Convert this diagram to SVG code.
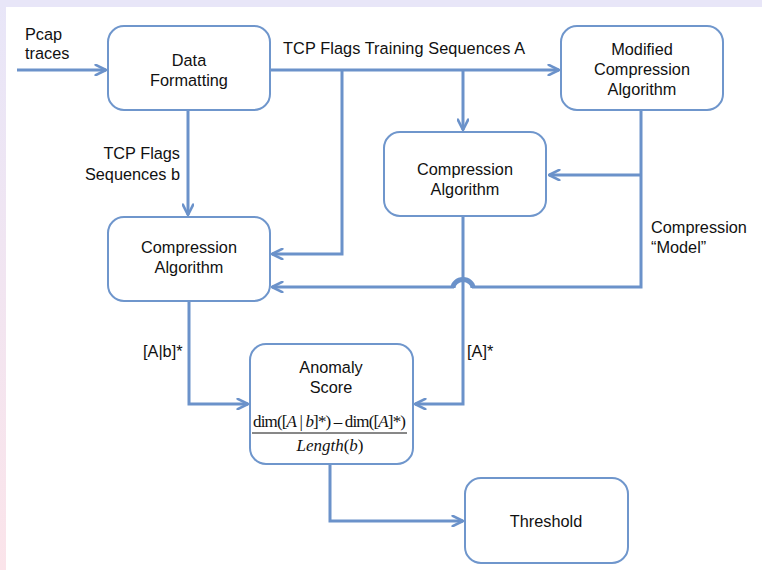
<svg xmlns="http://www.w3.org/2000/svg" width="762" height="570" viewBox="0 0 762 570">
<defs>
<linearGradient id="lg" x1="0" y1="0" x2="0" y2="1">
<stop offset="0" stop-color="#e8e6f8"/>
<stop offset="1" stop-color="#fbe4ea"/>
</linearGradient>
<marker id="ah" viewBox="0 0 10 10" refX="9" refY="5" markerWidth="4.3" markerHeight="4.3" orient="auto" markerUnits="strokeWidth">
<path d="M1,1 L9,5 L1,9" fill="none" stroke="#6b92ca" stroke-width="2" stroke-linecap="round" stroke-linejoin="round"/>
</marker>
<style>
.box{fill:#ffffff;stroke:#6f96cc;stroke-width:2}
.t{font-family:"Liberation Sans",Arial,sans-serif;font-size:16.3px;fill:#111}
.c{text-anchor:middle}
.e{text-anchor:end}
.ln{fill:none;stroke:#6b92ca;stroke-width:3}
.f{font-family:"Liberation Serif","Times New Roman",serif;font-size:17px;fill:#111}
.i{font-style:italic}
</style>
</defs>
<rect x="0" y="0" width="762" height="570" fill="#ffffff"/>
<rect x="0" y="0" width="6" height="570" fill="url(#lg)"/>
<rect x="0" y="0" width="762" height="7" fill="#e8e6f8"/>

<g id="connectors">
<path class="ln" d="M17,70 H106" marker-end="url(#ah)"/>
<path class="ln" d="M270,70 H559" marker-end="url(#ah)"/>
<path class="ln" d="M342,70 V254 H272" marker-end="url(#ah)"/>
<path class="ln" d="M463,70 V130" marker-end="url(#ah)"/>
<path class="ln" d="M188,110 V215" marker-end="url(#ah)"/>
<path class="ln" d="M641,110 V287 H472 M454,287 H272" marker-end="url(#ah)"/>
<path d="M473,288 A9.5,8 0 0 0 453,288" fill="none" stroke="#6b92ca" stroke-width="5"/>
<path class="ln" d="M641,175 H549" marker-end="url(#ah)"/>
<path class="ln" d="M463,216 V404 H415" marker-end="url(#ah)"/>
<path class="ln" d="M189,302 V404 H248" marker-end="url(#ah)"/>
<path class="ln" d="M330,464 V521 H463" marker-end="url(#ah)"/>
<text class="t" x="25" y="40">Pcap</text>
<text class="t" x="25" y="59">traces</text>
<text class="t" x="283" y="54" textLength="242">TCP Flags Training Sequences A</text>
<text class="t e" x="180" y="159">TCP Flags</text>
<text class="t e" x="180" y="180">Sequences b</text>
<text class="t" x="651" y="233">Compression</text>
<text class="t" x="651" y="253">“Model”</text>
<text class="t" x="143" y="357">[A|b]*</text>
<text class="t" x="467" y="357">[A]*</text>
</g>

<g id="data-formatting">
<rect class="box" x="108" y="26" width="162" height="84" rx="16"/>
<text class="t c" x="189" y="66">Data</text>
<text class="t c" x="189" y="86">Formatting</text>
</g>

<g id="modified-compression">
<rect class="box" x="561" y="26" width="162" height="84" rx="16"/>
<text class="t c" x="642" y="55">Modified</text>
<text class="t c" x="642" y="75">Compression</text>
<text class="t c" x="642" y="95">Algorithm</text>
</g>

<g id="compression-middle">
<rect class="box" x="384" y="132" width="162" height="84" rx="16"/>
<text class="t c" x="465" y="175">Compression</text>
<text class="t c" x="465" y="195">Algorithm</text>
</g>

<g id="compression-left">
<rect class="box" x="108" y="217" width="162" height="84" rx="16"/>
<text class="t c" x="189" y="253">Compression</text>
<text class="t c" x="189" y="273">Algorithm</text>
</g>

<g id="anomaly-score">
<rect class="box" x="250" y="344" width="163" height="120" rx="16"/>
<text class="t c" x="331" y="373">Anomaly</text>
<text class="t c" x="331" y="393">Score</text>
<text class="f" x="253" y="427" textLength="153">dim([<tspan class="i">A</tspan> | <tspan class="i">b</tspan>]*) – dim([<tspan class="i">A</tspan>]*)</text>
<line x1="252" y1="433" x2="407" y2="433" stroke="#111" stroke-width="1"/>
<text class="f c" x="330" y="451"><tspan class="i">Length</tspan>(<tspan class="i">b</tspan>)</text>
</g>

<g id="threshold">
<rect class="box" x="465" y="478" width="163" height="85" rx="16"/>
<text class="t c" x="546" y="527">Threshold</text>
</g>
</svg>
